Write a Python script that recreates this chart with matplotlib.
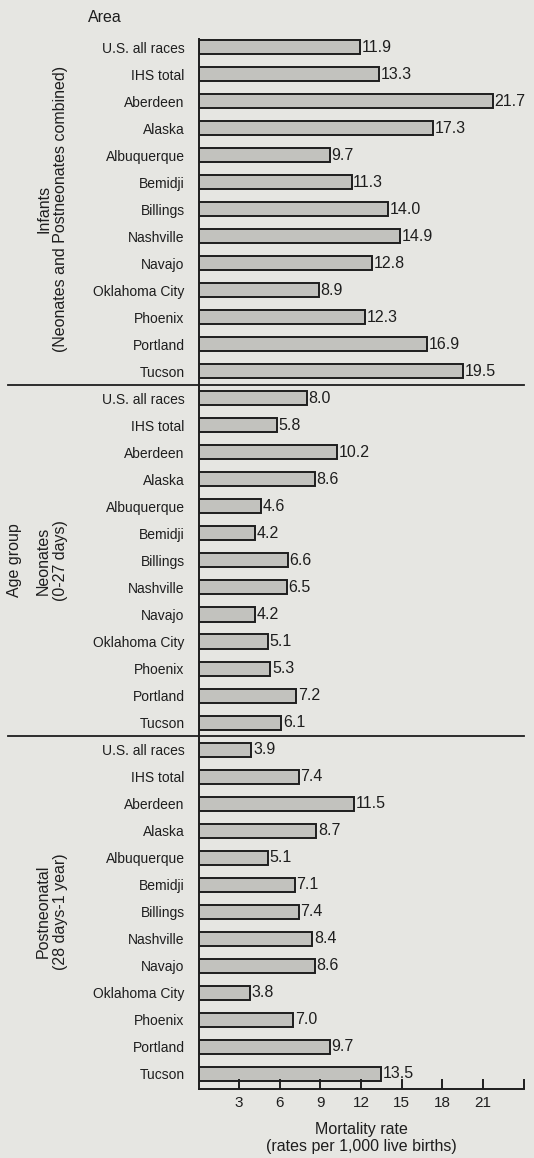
import matplotlib.pyplot as plt
import matplotlib.transforms as mtransforms
import numpy as np

plt.rcParams['font.family'] = ['Liberation Sans', 'DejaVu Sans']

areas = ['U.S. all races', 'IHS total', 'Aberdeen', 'Alaska', 'Albuquerque',
         'Bemidji', 'Billings', 'Nashville', 'Navajo', 'Oklahoma City',
         'Phoenix', 'Portland', 'Tucson']
infants = [11.9, 13.3, 21.7, 17.3, 9.7, 11.3, 14.0, 14.9, 12.8, 8.9, 12.3, 16.9, 19.5]
neonates = [8.0, 5.8, 10.2, 8.6, 4.6, 4.2, 6.6, 6.5, 4.2, 5.1, 5.3, 7.2, 6.1]
postneonatal = [3.9, 7.4, 11.5, 8.7, 5.1, 7.1, 7.4, 8.4, 8.6, 3.8, 7.0, 9.7, 13.5]
group_names = ['Infants\n(Neonates and Postneonates combined)',
               'Neonates\n(0-27 days)',
               'Postneonatal\n(28 days-1 year)']
xticks = [3, 6, 9, 12, 15, 18, 21]

bg = '#e6e6e2'
ink = '#1e1e1e'
values = infants + neonates + postneonatal
labels = areas * 3
ypos = np.arange(len(values))

fig = plt.figure(figsize=(5.34, 11.58), dpi=100, facecolor=bg)
ax = fig.add_axes([198.5 / 534, 1 - 1089 / 1158, 325.2 / 534, (1089 - 38.9) / 1158])
ax.set_facecolor(bg)

ax.barh(ypos, values, height=0.52, color='#c2c2be', edgecolor=ink, linewidth=1.4)
for y, v in zip(ypos, values):
    ax.text(v + 0.12, y, f'{v:.1f}', va='center', ha='left', fontsize=11.5, color=ink)

ax.set_xlim(0, 24)
ax.set_ylim(38.56, -0.3)
ax.set_yticks(ypos)
ax.set_yticklabels(labels, fontsize=10, color=ink)
ax.tick_params(axis='y', length=0, pad=10)
ax.set_xticks(xticks + [24])
ax.set_xticklabels([str(t) for t in xticks] + [''], fontsize=11, color=ink)
ax.tick_params(axis='x', direction='in', length=7, width=1.4, pad=5, colors=ink)
for s in ['top', 'right']:
    ax.spines[s].set_visible(False)
for s in ['left', 'bottom']:
    ax.spines[s].set_linewidth(1.4)
    ax.spines[s].set_color(ink)

# lines splitting the three age groups
for yb in [12.5, 25.5]:
    ax.plot([-0.586, 1.0], [yb, yb], color=ink, linewidth=1.3,
            transform=mtransforms.blended_transform_factory(ax.transAxes, ax.transData),
            clip_on=False)

# group titles on the left
tr = mtransforms.blended_transform_factory(fig.transFigure, ax.transData)
for i, name in enumerate(group_names):
    ax.text(52 / 534, i * 13 + 6, name, rotation=90, ha='center', va='center',
            fontsize=11.5, transform=tr, color=ink, linespacing=1.15)
fig.text(15 / 534, 1 - 560 / 1158, 'Age group', rotation=90, ha='center', va='center',
         fontsize=11.5, color=ink)
fig.text(88 / 534, 1 - 17 / 1158, 'Area', ha='left', va='center', fontsize=11.5, color=ink)

ax.set_xlabel('Mortality rate\n(rates per 1,000 live births)', fontsize=11.5,
              color=ink, labelpad=9, linespacing=1.1)

fig.savefig('out.png', dpi=100, facecolor=bg)
